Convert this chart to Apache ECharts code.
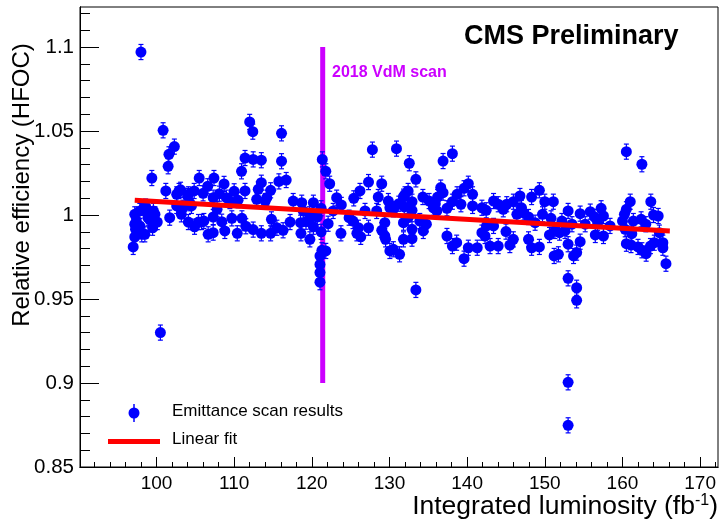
<!DOCTYPE html>
<html><head><meta charset="utf-8">
<script src="https://cdn.jsdelivr.net/npm/echarts@6/dist/echarts.min.js"></script>
<style>html,body{margin:0;padding:0;background:#fff}#c{width:721px;height:525px}</style>
</head><body><div id="c"></div>
<script>
// Integrated luminosity (fb^-1) of each emittance scan
const lumi = [97.0,97.2,97.3,97.4,97.2,97.2,97.85,97.85,98.0,98.1,98.4,98.5,98.6,98.9,98.9,99.1,99.4,99.5,99.6,99.8,
99.8,100.1,100.5,100.85,101.2,101.5,101.6,101.7,102.3,102.6,102.6,102.9,103.1,103.2,103.4,104.0,104.1,104.1,104.3,104.5,
104.85,104.9,105.4,105.5,105.8,106.0,106.1,106.6,106.65,107.3,107.3,107.3,107.4,107.8,108.1,108.4,108.7,108.8,109.0,109.45,
109.7,110.0,110.4,110.5,110.95,111.0,111.4,111.4,111.5,112.0,112.4,112.45,112.45,112.9,113.1,113.5,113.5,113.5,114.0,114.2,
114.7,114.7,114.8,115.5,115.76,116.1,116.1,116.3,116.7,117.2,117.6,118.55,118.6,118.7,118.9,119.25,119.7,119.75,119.75,120.2,
120.2,120.7,121.05,121.05,121.05,121.05,121.35,121.3,121.2,121.2,121.8,121.8,122.1,122.3,122.75,123.2,123.75,123.8,124.8,125.3,
125.4,125.8,126.0,126.2,126.3,126.85,127.3,127.3,127.8,128.35,128.55,129.0,129.0,129.4,129.4,129.5,129.85,130.05,130.05,130.5,
130.5,130.9,131.2,131.3,131.8,131.8,131.8,131.9,132.0,132.4,132.4,132.55,132.9,132.9,132.9,132.9,133.4,133.4,133.9,134.3,
134.35,134.75,135.1,135.65,135.9,136.1,136.2,136.6,136.9,136.9,137.4,137.4,138.1,138.1,138.1,138.65,138.7,139.2,139.6,139.6,
140.15,140.15,140.7,140.7,141.3,141.9,141.9,142.3,142.45,142.5,142.95,143.4,143.4,144.0,144.0,144.65,145.0,145.1,145.5,145.95,
145.95,146.4,146.8,147.0,147.2,147.9,147.9,148.3,148.3,148.75,149.3,149.3,149.7,150.0,150.6,150.8,151.1,151.2,151.3,151.75,
151.9,152.2,152.6,153.0,153.0,153.0,153.0,153.0,153.5,153.7,154.1,154.1,154.1,154.55,154.55,155.2,155.85,156.4,156.5,156.8,
157.25,157.55,157.55,158.4,160.0,160.25,160.35,160.5,160.5,160.5,161.0,161.1,161.2,161.4,162.0,162.4,162.5,162.5,163.0,163.05,
163.6,163.65,164.0,164.1,164.6,164.75,165.2,165.2,165.6];
// Relative efficiency (HFOC)
const eff = [0.981,0.9869,0.9915,0.9964,1.0004,0.9945,1.0024,0.9935,1.097,0.9885,1.0043,0.9885,1.005,1.0014,0.9984,0.9974,1.022,0.9924,1.0024,0.9954,
1.0004,0.9958,0.930,1.0504,1.0143,1.029,1.0361,0.9984,1.0407,1.0123,1.0054,1.0143,1.015,1.0004,1.0043,1.0113,1.0123,0.9958,1.007,1.0054,
1.0143,0.993,0.9958,1.022,0.9958,1.0129,0.9964,1.0171,0.9885,0.9895,1.0103,0.9988,1.022,1.0034,1.0127,0.996,1.0185,0.9905,1.0103,1.0083,
0.998,1.0141,0.9891,1.0088,1.026,0.998,1.0339,1.0143,0.9933,1.0554,1.0496,1.0331,0.9913,1.0093,1.0153,1.0326,1.0192,0.9891,1.0083,1.0103,
1.0147,0.9891,0.9974,0.9924,1.020,1.0486,1.032,0.9909,1.0208,0.9958,1.0083,0.9954,0.9891,1.0073,1.0024,0.996,1.0004,0.9978,0.9855,1.0073,
0.993,0.9988,0.9756,0.9706,0.9657,0.960,1.0331,0.979,0.990,1.004,1.026,0.9786,0.9948,1.0186,1.0024,1.0103,0.9891,1.006,0.9984,0.9964,
1.0099,0.9891,0.9924,1.0143,0.987,1.0024,1.0196,0.9924,1.0389,1.0024,1.0107,1.0186,0.9909,0.9875,0.9954,0.9855,1.0083,0.9786,1.0043,0.9796,
1.0034,1.0395,1.0067,0.9766,0.9954,0.9855,1.0109,1.0048,1.0123,1.0143,0.9984,1.0308,1.0079,1.0028,0.9915,0.9859,1.0212,0.9554,0.9964,1.0107,
0.9905,0.9945,1.0083,1.0043,1.0067,1.0024,1.0107,1.0163,1.0321,1.0133,1.004,0.9875,1.0365,1.0079,0.9815,0.9835,1.0123,1.0064,1.0159,0.974,
1.0186,0.9805,1.0123,1.0054,0.9805,1.0043,0.9895,0.9875,1.0028,0.9935,0.9815,1.0083,0.9935,1.0064,0.9815,1.0034,0.9901,1.0064,0.9821,1.0079,
0.9855,1.0004,1.0113,1.0043,1.0014,0.9988,0.9855,1.0107,0.9805,0.9954,1.0147,0.981,1.0004,1.0079,0.9881,0.998,1.0079,0.9756,0.9905,0.9766,
0.9895,0.9964,0.9905,1.0024,0.9826,0.9623,0.9004,0.8748,0.9945,0.9756,0.9776,0.9567,0.9492,1.0008,0.9841,0.9945,1.002,0.9988,0.9881,0.9954,
1.004,0.9994,0.9875,0.9935,0.9964,1.0004,0.9915,1.0377,1.0034,0.9829,1.0079,0.9821,0.9889,0.9964,0.981,0.9974,1.0302,0.979,0.9945,0.977,
0.9815,1.0079,1.0,0.9835,0.9994,0.9895,0.9835,0.9805,0.971];
const effErr = 0.0045;
// Linear fit end points
const fitX = [97.2, 166.1];
const fitY = [1.0088, 0.9905];
// 2018 VdM scan marker
const vdmX = [121.4, 121.4];
const vdmY = [0.9, 1.1];
// Axis ticks
const xMajor = [100,110,120,130,140,150,160,170];
const xMinor = [92,94,96,98,102,104,106,108,112,114,116,118,122,124,126,128,132,134,136,138,142,144,146,148,152,154,156,158,162,164,166,168,172];
const yMajor = [0.85,0.9,0.95,1,1.05,1.1];
const yMinor = [0.86,0.87,0.88,0.89,0.91,0.92,0.93,0.94,0.96,0.97,0.98,0.99,1.01,1.02,1.03,1.04,1.06,1.07,1.08,1.09,1.11,1.12];

const X_MIN = 90.15, X_MAX = 172.3, Y_MIN = 0.85, Y_MAX = 1.1238;
const FONT = 'Liberation Sans, Arial, Helvetica, sans-serif';

const chart = echarts.init(document.getElementById('c'), null, {renderer:'canvas'});
const pts = lumi.map((x,i)=>[x, eff[i]]);
const errs = lumi.map((x,i)=>[x, eff[i]-effErr, eff[i]+effErr]);
const fmt = v => String(+(+v).toFixed(2));

function xAx(vals, len, labels){
  return {type:'value', min:X_MIN, max:X_MAX, position:'bottom',
    axisLine:{show:true, onZero:false, lineStyle:{color:'#000', width:1}},
    splitLine:{show:false},
    axisTick:{show:true, inside:true, length:len, customValues:vals, lineStyle:{color:'#000', width:1}},
    axisLabel:{show:labels, customValues:vals, margin:7, color:'#000', fontSize:19, fontFamily:FONT, formatter:fmt}};
}
function yAx(vals, len, labels){
  return {type:'value', min:Y_MIN, max:Y_MAX, position:'left',
    axisLine:{show:true, onZero:false, lineStyle:{color:'#000', width:1}},
    splitLine:{show:false},
    axisTick:{show:true, inside:true, length:len, customValues:vals, lineStyle:{color:'#000', width:1}},
    axisLabel:{show:labels, customValues:vals, margin:6, color:'#000', fontSize:20.5, fontFamily:FONT, formatter:fmt}};
}

chart.setOption({
  animation:false,
  backgroundColor:'#fff',
  grid:{left:80, right:3, top:7, bottom:58, show:true, borderColor:'#000', borderWidth:1, backgroundColor:'transparent'},
  xAxis:[xAx(xMajor,10,true), xAx(xMinor,5,false)],
  yAxis:[yAx(yMajor,19,true), yAx(yMinor,10,false)],
  series:[
    {type:'line', data:vdmX.map((x,i)=>[x, vdmY[i]]), symbol:'none', z:1,
     lineStyle:{color:'#cc00ff', width:5}},
    {type:'custom', z:2, data:errs,
     renderItem:function(params, api){
       const x = api.value(0);
       const lo = api.coord([x, api.value(1)]);
       const hi = api.coord([x, api.value(2)]);
       const st = {stroke:'#0000ff', lineWidth:1.2};
       return {type:'group', children:[
         {type:'line', shape:{x1:lo[0], y1:lo[1], x2:hi[0], y2:hi[1]}, style:st},
         {type:'line', shape:{x1:lo[0]-2.5, y1:lo[1], x2:lo[0]+2.5, y2:lo[1]}, style:st},
         {type:'line', shape:{x1:hi[0]-2.5, y1:hi[1], x2:hi[0]+2.5, y2:hi[1]}, style:st}
       ]};
     }},
    {type:'scatter', z:3, data:pts, symbol:'circle', symbolSize:11,
     itemStyle:{color:'#0000ff', opacity:1}},
    {type:'line', z:4, data:fitX.map((x,i)=>[x, fitY[i]]), symbol:'none',
     lineStyle:{color:'#ff0000', width:5}}
  ],
  graphic:[
    {type:'text', left:464, top:23, style:{text:'CMS Preliminary', font:'bold 27px '+FONT, fill:'#000'}},
    {type:'text', left:332, top:65, style:{text:'2018 VdM scan', font:'bold 16px '+FONT, fill:'#cc00ff'}},
    {type:'text', x:22, y:185, rotation:Math.PI/2,
     style:{text:'Relative efficiency (HFOC)', font:'24px '+FONT, fill:'#000', align:'center', verticalAlign:'middle'}},
    {type:'text', x:718, y:507,
     style:{text:'{a|Integrated luminosity (fb}{s|-1}{a|)}', align:'right', verticalAlign:'middle',
       rich:{a:{fontSize:26.5, fontFamily:FONT, fill:'#000'},
             s:{fontSize:16, fontFamily:FONT, fill:'#000', padding:[0,0,13,0]}}}},
    // legend
    {type:'line', shape:{x1:134, y1:404, x2:134, y2:422}, style:{stroke:'#0000ff', lineWidth:1.5}},
    {type:'circle', shape:{cx:134, cy:413, r:5.5}, style:{fill:'#0000ff'}},
    {type:'text', left:172, top:403, style:{text:'Emittance scan results', font:'17px '+FONT, fill:'#000'}},
    {type:'line', shape:{x1:108, y1:441.5, x2:160, y2:441.5}, style:{stroke:'#ff0000', lineWidth:5}},
    {type:'text', left:172, top:431, style:{text:'Linear fit', font:'17px '+FONT, fill:'#000'}}
  ]
});
</script></body></html>
